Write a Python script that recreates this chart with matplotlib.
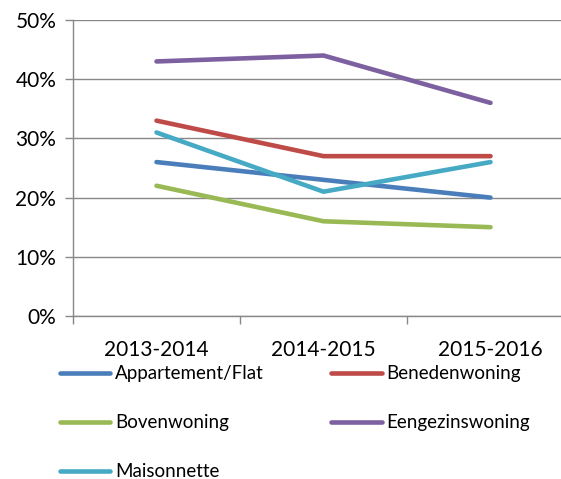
import matplotlib
matplotlib.use("Agg")
import matplotlib.pyplot as plt
from matplotlib.ticker import FixedLocator, PercentFormatter

plt.rcParams['font.family'] = ['Lato', 'DejaVu Sans']

years = ["2013-2014", "2014-2015", "2015-2016"]
appartement = [26, 23, 20]
benedenwoning = [33, 27, 27]
bovenwoning = [22, 16, 15]
eengezinswoning = [43, 44, 36]
maisonnette = [31, 21, 26]

series = [
    ("Appartement/Flat", appartement, "#4A7EBB"),
    ("Benedenwoning", benedenwoning, "#BE4B48"),
    ("Bovenwoning", bovenwoning, "#98B954"),
    ("Eengezinswoning", eengezinswoning, "#7D60A0"),
    ("Maisonnette", maisonnette, "#46AAC5"),
]

fig = plt.figure(figsize=(5.61, 4.79), dpi=100)
ax = fig.add_axes([73 / 561, 1 - 316 / 479, (574 - 73) / 561, (316 - 20) / 479])

x = list(range(len(years)))
lines = {}
for name, vals, col in series:
    ln, = ax.plot(x, vals, color=col, linewidth=3.3, solid_capstyle='round', label=name)
    lines[name] = ln

ax.set_xlim(-0.5, 2.5)
ax.set_ylim(0, 50)
ax.set_yticks([0, 10, 20, 30, 40, 50])
ax.yaxis.set_major_formatter(PercentFormatter(decimals=0))
ax.set_xticks(x)
ax.set_xticklabels(years)
ax.xaxis.set_minor_locator(FixedLocator([-0.5, 0.5, 1.5, 2.5]))

ax.grid(axis='y', color='#888888', linewidth=1)
ax.set_axisbelow(True)
for s in ['top', 'right']:
    ax.spines[s].set_visible(False)
for s in ['left', 'bottom']:
    ax.spines[s].set_color('#888888')
    ax.spines[s].set_linewidth(1)

ax.tick_params(axis='y', length=6, color='#888888', width=1, pad=6, labelsize=15)
ax.tick_params(axis='x', which='major', length=0, pad=17, labelsize=15)
ax.tick_params(axis='x', which='minor', length=6, color='#888888', width=1)

# legend filled column-wise, so order entries to read row-wise like the reference
order = ["Appartement/Flat", "Bovenwoning", "Maisonnette", "Benedenwoning", "Eengezinswoning"]
fig.legend([lines[n] for n in order], order, ncol=2, frameon=False,
           loc='upper left', bbox_to_anchor=(52 / 561, 1 - 358 / 479),
           fontsize=13.5, handlelength=2.7, handletextpad=0.25,
           columnspacing=3.6, labelspacing=1.7, borderaxespad=0)

fig.savefig("out.png", dpi=100)
